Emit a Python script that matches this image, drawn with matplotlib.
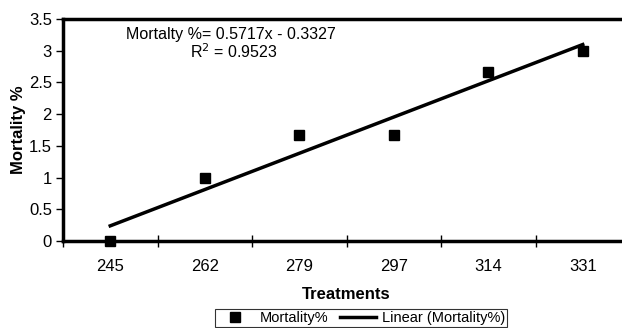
import numpy as np
import matplotlib
matplotlib.use("Agg")
import matplotlib.pyplot as plt

plt.rcParams['font.family'] = ['Liberation Sans', 'DejaVu Sans']

# data
treatments = ['245', '262', '279', '297', '314', '331']
mortality = [0.0, 1.0, 1.67, 1.67, 2.67, 3.0]
slope = 0.5717
intercept = -0.3327
r2 = 0.9523

fig = plt.figure(figsize=(6.22, 3.28), dpi=100)
ax = fig.add_axes([63/622, 1 - 241/328, 567/622, 222/328])

x = np.arange(1, len(treatments) + 1)
ax.plot(x, mortality, 's', color='black', markersize=6.5, linestyle='none',
        label='Mortality%', zorder=3, clip_on=False)
fit = slope * x + intercept
ax.plot(x, fit, '-', color='black', linewidth=2.5, label='Linear (Mortality%)')

ax.set_xlim(0.5, 6.5)
ax.set_ylim(0, 3.5)
ax.set_yticks(np.arange(0, 3.51, 0.5))
ax.set_yticklabels(['0', '0.5', '1', '1.5', '2', '2.5', '3', '3.5'])
ax.set_xticks(x)
ax.set_xticklabels(treatments)
ax.set_xticks(np.arange(0.5, 6.6, 1), minor=True)
ax.tick_params(axis='x', which='major', length=0, pad=13, labelsize=12)
ax.tick_params(axis='x', which='minor', direction='inout', length=8, width=1)
ax.tick_params(axis='y', direction='out', length=5, width=1, labelsize=12, pad=3)

for s in ax.spines.values():
    s.set_linewidth(2.5)

ax.set_xlabel('Treatments', fontsize=12, fontweight='bold', labelpad=9)
ax.set_ylabel('Mortality %', fontsize=12, fontweight='bold', labelpad=2)

eq = 'Mortalty %= {:.4f}x - {:.4f}'.format(slope, -intercept)
fig.text(231/622, 1 - 35/328, eq, ha='center', va='center', fontsize=11.5)
fig.text(234/622, 1 - 52/328, 'R$^2$ = {:.4f}'.format(r2),
         ha='center', va='center', fontsize=11.5)

leg = fig.legend(loc='upper left', bbox_to_anchor=(215/622, 1 - 309/328), ncol=2,
                 fontsize=10.5, frameon=True, fancybox=False, borderpad=0.15,
                 borderaxespad=0, handlelength=2.5, columnspacing=0.8,
                 handletextpad=0.4)
leg.get_frame().set_edgecolor('black')
leg.get_frame().set_linewidth(0.8)

fig.savefig('out.png', dpi=100)
